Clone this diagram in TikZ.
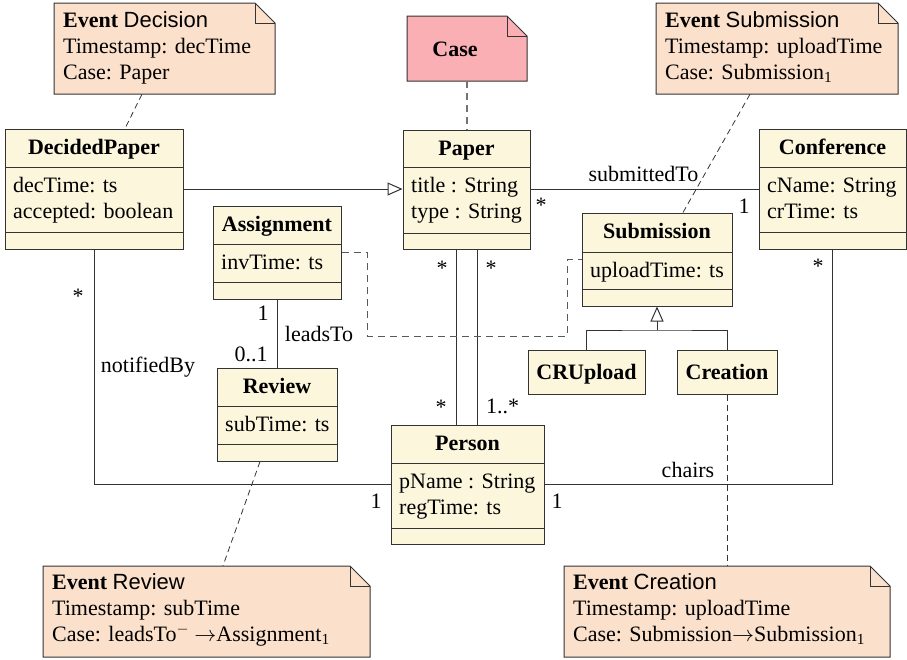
\RequirePackage{fix-cm}
\documentclass[tikz,border=0pt]{standalone}
\usepackage{fontspec}
\setmainfont{Liberation Serif}
\setsansfont{Liberation Sans}
\usetikzlibrary{arrows.meta,fit}

\definecolor{classfill}{HTML}{FBF6DC}
\definecolor{notefill}{HTML}{FBE1CB}
\definecolor{casefill}{HTML}{F9AFB3}
\definecolor{edge}{HTML}{333333}

\tikzset{
  every node/.style={font=\fontsize{22}{26}\selectfont},
  classbox/.style={draw=edge, fill=classfill, line width=1pt, inner sep=0pt},
  sepline/.style={draw=edge, line width=1pt},
  attrtext/.style={anchor=north west, inner sep=0pt, align=left},
  notetext/.style={anchor=north west, inner sep=0pt, align=left},
  notedraw/.style={draw=edge, line width=1pt},
  assoc/.style={draw=edge, line width=1pt},
  genarrow/.style={draw=edge, line width=1pt, -{Triangle[open, length=15pt, width=13pt, fill=white]}},
  notelink/.style={draw=edge, line width=0.8pt, dash pattern=on 6pt off 4pt},
  caselink/.style={draw=black!55, line width=1.4pt, dash pattern=on 7pt off 5pt},
  grouplink/.style={draw=black!65, line width=1pt, dash pattern=on 7pt off 5pt},
  lab/.style={anchor=base, inner sep=0pt},
}

% class box: name, x1, y1, x2, y2, first separator, second separator, title, attributes
\newcommand{\umlclass}[9]{%
  \node[classbox, fit={(#2,#3) (#4,#5)}] (#1) {};
  \draw[sepline] (#2,#6) -- (#4,#6);
  \draw[sepline] (#2,#7) -- (#4,#7);
  \node[lab] (#1-name) at ({(#2+#4)/2},#3+25) {\bfseries #8};
  \node[attrtext] (#1-attrs) at (#2+8,#6+6.8) {\strut #9};
}

% note with folded corner: name, x1, y1, x2, y2, fill colour
\newcommand{\notebox}[6]{%
  \node[fit={(#2,#3) (#4,#5)}, inner sep=0pt] (#1) {};
  \filldraw[notedraw, fill=#6] (#2,#3) -- (#4-20,#3) -- (#4,#3+20) -- (#4,#5) -- (#2,#5) -- cycle;
  \draw[notedraw] (#4-20,#3) |- (#4,#3+20);
}

\begin{document}
\begin{tikzpicture}[x=1pt,y=-1pt]
\useasboundingbox (0,0) rectangle (907,659);

% ---------- classes ----------
\umlclass{decided}{5}{129}{183}{249}{167}{232}{DecidedPaper}{decTime: ts\\\strut accepted: boolean}
\umlclass{paper}{403}{130}{530}{249}{167}{233}{Paper}{title : String\\\strut type : String}
\umlclass{conf}{759}{129}{906}{249}{167}{232}{Conference}{cName: String\\\strut crTime: ts}
\umlclass{assign}{213}{206}{341}{299}{244}{282}{Assignment}{invTime: ts}
\umlclass{submission}{582}{213}{732}{306}{252}{289}{Submission}{uploadTime: ts}
\umlclass{review}{217}{368}{337}{461}{406}{444}{Review}{subTime: ts}
\umlclass{person}{391}{425}{544}{544}{463}{528}{Person}{pName : String\\\strut regTime: ts}
\node[classbox, fit={(528,350) (645,394)}] (crupload) {};
\node[lab] (crupload-name) at (586.5,379) {\bfseries CRUpload};
\node[classbox, fit={(677,350) (777,394)}] (creation) {};
\node[lab] (creation-name) at (727,379) {\bfseries Creation};

% ---------- notes ----------
\notebox{evdec}{54}{3}{275}{94}{notefill}
\node[notetext] (evdec-text) at (63,8.8) {\strut\textbf{Event} \textsf{Decision}\\\strut Timestamp: decTime\\\strut Case: Paper};

\notebox{case}{407}{16}{527}{81}{casefill}
\node[lab] (case-text) at (455,56) {\bfseries Case};

\notebox{evsub}{656}{3}{898}{94}{notefill}
\node[notetext] (evsub-text) at (665,8.8) {\strut\textbf{Event} \textsf{Submission}\\\strut Timestamp: uploadTime\\\strut Case: Submission\textsubscript{1}};

\notebox{evrev}{43}{566}{370}{657}{notefill}
\node[notetext] (evrev-text) at (52,571) {\strut\textbf{Event} \textsf{Review}\\\strut Timestamp: subTime\\\strut Case: leadsTo$^-$ $\rightarrow$Assignment\textsubscript{1}};

\notebox{evcre}{564}{566}{890}{657}{notefill}
\node[notetext] (evcre-text) at (573,571) {\strut\textbf{Event} \textsf{Creation}\\\strut Timestamp: uploadTime\\\strut Case: Submission$\rightarrow$Submission\textsubscript{1}};

% ---------- note links ----------
\draw[notelink] ([xshift=-22.5pt]evdec.south) -- ([xshift=31pt]decided.north);
\draw[caselink] (case.south) -- (case.south |- paper.north);
\draw[notelink] ([xshift=-27pt]evsub.south) -- ([xshift=26pt]submission.north);
\draw[notelink] ([xshift=-17pt]review.south) -- ([xshift=16.5pt]evrev.north);
\draw[notelink] (creation.south) -- (creation.south |- evcre.north);

% ---------- associations ----------
\draw[genarrow] (decided.east) -- (decided.east -| paper.west);
\draw[assoc] (paper.east) -- (paper.east -| conf.west);
\draw[assoc] ([xshift=-10.5pt]paper.south) -- ([xshift=-10.5pt]paper.south |- person.north);
\draw[assoc] ([xshift=10.5pt]paper.south) -- ([xshift=10.5pt]paper.south |- person.north);
\draw[assoc] (assign.south) -- (assign.south |- review.north);
\draw[assoc] (decided.south) |- (person.west);
\draw[assoc] (conf.south) |- (person.east);

% generalization of Submission
\coordinate (subgen) at (657,330);
\draw[assoc] (crupload.north) |- (subgen) -| (creation.north);
\draw[genarrow] (subgen) -- (submission.south);

% dashed link between leadsTo and Submission
\coordinate (lt1) at (367,336);
\coordinate (lt2) at (567,259.5);
\draw[grouplink] (assign.east) -| (lt1) -| (lt2) -- (lt2 -| submission.west);

% ---------- labels ----------
\node[lab] (l-subto) at (643.5,181) {submittedTo};
\node[lab] (l-subto-a) at (541,212) {*};
\node[lab] (l-subto-b) at (744,213) {1};
\node[lab] (l-pp1) at (442,275) {*};
\node[lab] (l-pp2) at (491,275) {*};
\node[lab] (l-pp3) at (441,414) {*};
\node[lab, anchor=base west] (l-pp4) at (486,413) {1..*};
\node[lab] (l-lt1) at (263,320) {1};
\node[lab] (l-lt2) at (251,361) {0..1};
\node[lab] (l-lt) at (319,341) {leadsTo};
\node[lab] (l-nb) at (148,372) {notifiedBy};
\node[lab] (l-nb1) at (78,303) {*};
\node[lab] (l-nb2) at (376,508) {1};
\node[lab] (l-ch) at (688,477) {chairs};
\node[lab] (l-ch1) at (818,273) {*};
\node[lab] (l-ch2) at (557,508) {1};
\end{tikzpicture}
\end{document}
